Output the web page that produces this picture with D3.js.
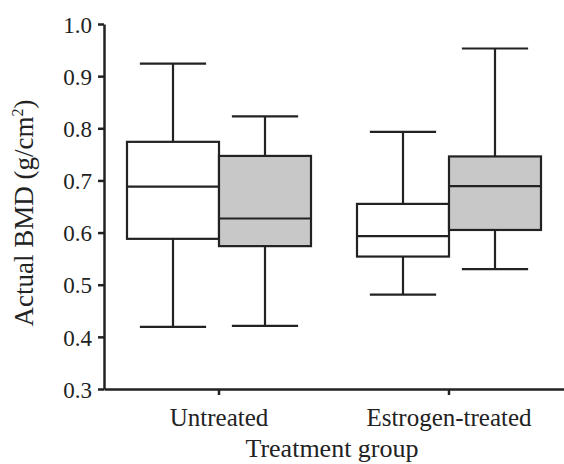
<!DOCTYPE html>
<html lang="en">
<head>
  <meta charset="UTF-8">
  <script src="https://cdnjs.cloudflare.com/ajax/libs/d3/7.8.5/d3.min.js"></script>
  <style>
    body { margin: 0; background: #fff; }
    svg text { font-family: "Liberation Serif", "DejaVu Serif", serif; fill: #222; }
    .axis path, .axis line { stroke: #222; stroke-width: 2.5; }
  </style>
  <title>Actual BMD by treatment group</title>
</head>
<body>
  <script>
    const groups = ["Untreated", "Estrogen-treated"];
    const series = ["white", "shaded"];
    const yTicks = [0.3, 0.4, 0.5, 0.6, 0.7, 0.8, 0.9, 1.0];

    // min, q1, median, q3, max
    const untreatedWhite = [0.419, 0.588, 0.688, 0.774, 0.924];
    const untreatedShaded = [0.421, 0.574, 0.627, 0.747, 0.823];
    const estrogenWhite = [0.481, 0.554, 0.593, 0.655, 0.793];
    const estrogenShaded = [0.530, 0.605, 0.689, 0.746, 0.953];

    const boxes = [
      { group: "Untreated", s: "white", v: untreatedWhite },
      { group: "Untreated", s: "shaded", v: untreatedShaded },
      { group: "Estrogen-treated", s: "white", v: estrogenWhite },
      { group: "Estrogen-treated", s: "shaded", v: estrogenShaded }
    ];

    const w = 564, h = 464;
    const mLeft = 104, mRight = 564, mTop = 24, mBottom = 389;

    const svg = d3.select("body").append("svg")
      .attr("width", w)
      .attr("height", h);

    const x0 = d3.scaleBand().domain(groups).range([mLeft, mRight]).padding(0);
    const x1 = d3.scaleBand().domain(series).range([0, x0.bandwidth()])
      .paddingInner(0).paddingOuter(0.25);
    const y = d3.scaleLinear().domain([0.3, 1.0]).range([mBottom, mTop]);

    const yAxis = d3.axisLeft(y).tickValues(yTicks).tickFormat(d3.format(".1f"))
      .tickSize(6).tickPadding(6).tickSizeOuter(0);
    const xAxis = d3.axisBottom(x0).tickSize(6).tickPadding(13).tickSizeOuter(0);

    const gy = svg.append("g").attr("class", "axis")
      .attr("transform", "translate(" + mLeft + ",0)")
      .call(yAxis)
      .attr("font-family", null).attr("font-size", null);
    gy.selectAll("text").attr("dy", "0.36em").style("font-size", "23px");

    const gx = svg.append("g").attr("class", "axis")
      .attr("transform", "translate(0," + mBottom + ")")
      .call(xAxis)
      .attr("font-family", null).attr("font-size", null);
    gx.selectAll("text").style("font-size", "25px");

    const bw = x1.bandwidth();
    const capW = bw * 0.72;

    const b = svg.selectAll(".box").data(boxes).enter().append("g")
      .attr("class", "box")
      .attr("transform", d => "translate(" + (x0(d.group) + x1(d.s)) + ",0)");

    // whiskers
    b.append("line")
      .attr("x1", bw / 2).attr("x2", bw / 2)
      .attr("y1", d => y(d.v[0])).attr("y2", d => y(d.v[4]))
      .attr("stroke", "#222").attr("stroke-width", 2.2);
    b.selectAll(".cap").data(d => [d.v[0], d.v[4]]).enter().append("line")
      .attr("x1", bw / 2 - capW / 2).attr("x2", bw / 2 + capW / 2)
      .attr("y1", d => y(d)).attr("y2", d => y(d))
      .attr("stroke", "#222").attr("stroke-width", 2.2);

    // box
    b.append("rect")
      .attr("x", 0).attr("width", bw)
      .attr("y", d => y(d.v[3]))
      .attr("height", d => y(d.v[1]) - y(d.v[3]))
      .attr("fill", d => d.s === "white" ? "#fff" : "#c8c8c8")
      .attr("stroke", "#222").attr("stroke-width", 2.2);

    // median
    b.append("line")
      .attr("x1", 0).attr("x2", bw)
      .attr("y1", d => y(d.v[2])).attr("y2", d => y(d.v[2]))
      .attr("stroke", "#222").attr("stroke-width", 2.2);

    svg.append("text")
      .attr("transform", "translate(33,213) rotate(-90)")
      .attr("text-anchor", "middle")
      .style("font-size", "27px")
      .html('Actual BMD (g/cm<tspan dy="-10" style="font-size:16px">2</tspan><tspan dy="10">)</tspan>');

    svg.append("text")
      .attr("x", 332)
      .attr("y", 457)
      .attr("text-anchor", "middle")
      .style("font-size", "26px")
      .text("Treatment group");
  </script>
</body>
</html>
